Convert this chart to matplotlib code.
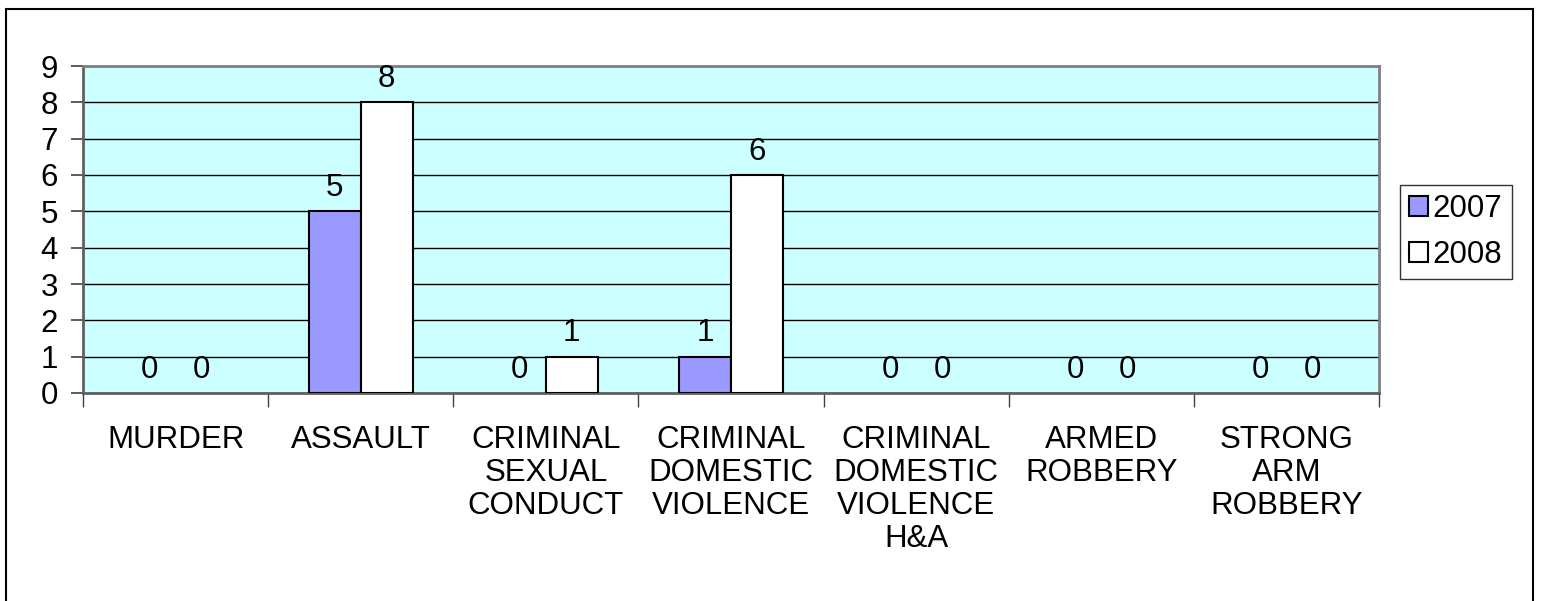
import matplotlib
matplotlib.use("Agg")
import matplotlib.pyplot as plt
import numpy as np
from matplotlib.patches import Rectangle, Patch

categories = ["MURDER", "ASSAULT", "CRIMINAL\nSEXUAL\nCONDUCT", "CRIMINAL\nDOMESTIC\nVIOLENCE",
              "CRIMINAL\nDOMESTIC\nVIOLENCE\nH&A", "ARMED\nROBBERY", "STRONG\nARM\nROBBERY"]
series_names = ["2007", "2008"]
values_2007 = [0, 5, 0, 1, 0, 0, 0]
values_2008 = [0, 8, 1, 6, 0, 0, 0]
yticks = list(range(0, 10))
colors = ["#9999FF", "white"]

plt.rcParams['font.family'] = ['Liberation Sans', 'DejaVu Sans']
FS = 22.5
W, H = 1541, 601
fig = plt.figure(figsize=(W / 100, H / 100), dpi=100)
fig.patch.set_facecolor("white")

# outer chart border (bottom edge lies below the image)
fig.patches.append(Rectangle((6 / W, -0.05), (1533 - 6) / W, 0.05 + (H - 9) / H, transform=fig.transFigure,
                             fill=False, edgecolor="black", linewidth=1.5))

left, right, top, bottom = 83, 1379, 66, 393
ax = fig.add_axes([left / W, 1 - bottom / H, (right - left) / W, (bottom - top) / H])
ax.set_facecolor("#CCFFFF")

x = np.arange(len(categories))
bw = 0.28
b1 = ax.bar(x - bw / 2, values_2007, bw, color=colors[0], edgecolor="black", linewidth=1.5, zorder=3)
b2 = ax.bar(x + bw / 2, values_2008, bw, color=colors[1], edgecolor="black", linewidth=1.5, zorder=3)
for bars in (b1, b2):
    for r in bars:
        if r.get_height() == 0:
            r.set_linewidth(0)
        ax.annotate(f"{int(r.get_height())}", (r.get_x() + r.get_width() / 2, r.get_height()),
                    xytext=(0, 6), textcoords="offset points", ha="center", va="bottom",
                    fontsize=FS, zorder=4)

ax.set_xlim(-0.5, len(categories) - 0.5)
ax.set_ylim(0, 9)
ax.set_yticks(yticks)
ax.set_yticklabels([str(t) for t in yticks], fontsize=FS)
ax.yaxis.grid(True, color="black", linewidth=1.0, zorder=1)
ax.set_axisbelow(True)
ax.tick_params(axis="y", length=9, width=1.2, color="#404040", pad=9)

ax.set_xticks(np.arange(len(categories) + 1) - 0.5, minor=False)
ax.set_xticklabels([])
ax.tick_params(axis="x", length=10, width=1.0, color="#404040")
for i, c in enumerate(categories):
    ax.text(i, -0.88, c, ha="center", va="top", fontsize=FS, linespacing=1.13,
            transform=ax.transData)

for s in ("top", "right"):
    ax.spines[s].set_color("#808080")
    ax.spines[s].set_linewidth(2)
ax.spines["left"].set_color("#606060")
ax.spines["left"].set_linewidth(2)
ax.spines["bottom"].set_color("#606060")
ax.spines["bottom"].set_linewidth(2)

handles = [Patch(facecolor=c, edgecolor="black", linewidth=1.5) for c in colors]
leg = fig.legend(handles=handles, labels=series_names, loc="upper left",
                 bbox_to_anchor=(1400 / W, 1 - 185 / H), fontsize=FS, frameon=True,
                 fancybox=False, edgecolor="black", handlelength=0.6, handleheight=0.6,
                 handletextpad=0.15, borderpad=0.3, labelspacing=0.5, borderaxespad=0)
leg.get_frame().set_linewidth(1.0)

fig.savefig("out.png", dpi=100)
